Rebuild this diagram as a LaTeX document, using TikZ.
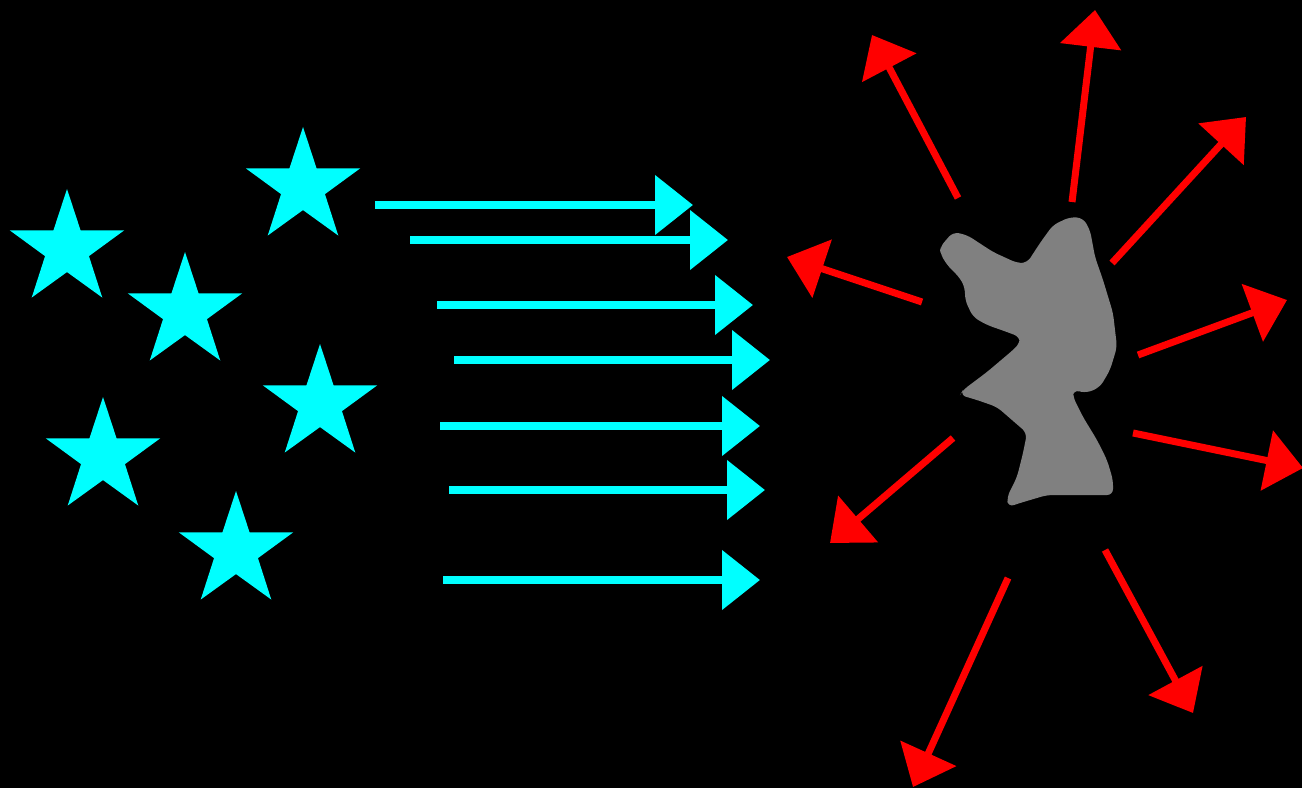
\documentclass[tikz,border=0pt]{standalone}
\usetikzlibrary{arrows.meta,shapes.geometric}
\definecolor{beamcyan}{RGB}{0,255,255}
\definecolor{burstred}{RGB}{255,0,0}
\definecolor{blobgray}{RGB}{128,128,128}

\begin{document}
\begin{tikzpicture}[x=0.1mm, y=-0.1mm,
  beam/.style={line width=0.8mm, beamcyan, -{Triangle[length=3.8mm,width=5.8mm]}},
  burst/.style={line width=0.7mm, burstred, -{Triangle[length=3.7mm,width=6mm]}},
  lightstar/.style={star, star points=5, star point ratio=2.6, minimum size=12mm, inner sep=0pt, fill=beamcyan}]
  \fill[black] (0,0) rectangle (1302,788);
  \clip (0,0) rectangle (1302,788);
  % light sources
  \node[lightstar] (s1) at (303,187) {};
  \node[lightstar] (s2) at (67,249) {};
  \node[lightstar] (s3) at (185,312) {};
  \node[lightstar] (s4) at (320,404) {};
  \node[lightstar] (s5) at (103,457) {};
  \node[lightstar] (s6) at (236,551) {};
  % incoming beams
  \draw[beam] (375,205) -- (693,205);
  \draw[beam] (410,240) -- (728,240);
  \draw[beam] (437,305) -- (753,305);
  \draw[beam] (454,360) -- (770,360);
  \draw[beam] (440,426) -- (760,426);
  \draw[beam] (449,490) -- (765,490);
  \draw[beam] (443,580) -- (760,580);
  % scattering object
  \fill[blobgray, rounded corners=0.6mm] (940,247) -- (953,232) -- (967,235) -- (993,252) -- (1017,263)
    -- (1027,263) -- (1040,243) -- (1053,225) -- (1070,217) -- (1083,218)
    -- (1090,230) -- (1095,257) -- (1103,280) -- (1113,313) -- (1117,347)
    -- (1110,370) -- (1100,387) -- (1087,393) -- (1073,390) -- (1073,397)
    -- (1083,417) -- (1097,440) -- (1107,460) -- (1113,480) -- (1113,495)
    -- (1073,495) -- (1047,495) -- (1020,503) -- (1008,507) -- (1007,497)
    -- (1017,477) -- (1023,453) -- (1027,433) -- (1020,427) -- (997,407)
    -- (977,400) -- (960,395) -- (963,390) -- (987,372) -- (1013,350)
    -- (1020,343) -- (1020,337) -- (1007,332) -- (987,325) -- (973,317)
    -- (965,300) -- (965,288) -- (960,278) -- (947,265) -- (940,253) -- cycle;
  % scattered light
  \draw[burst] (958,198) -- (872,35);
  \draw[burst] (1072,202) -- (1095,10);
  \draw[burst] (1112,263) -- (1246,117);
  \draw[burst] (922,302) -- (787,257);
  \draw[burst] (1138,355) -- (1287,300);
  \draw[burst] (1133,433) -- (1303,468);
  \draw[burst] (953,438) -- (830,543);
  \draw[burst] (1105,550) -- (1193,713);
  \draw[burst] (1008,578) -- (913,787);
\end{tikzpicture}
\end{document}
